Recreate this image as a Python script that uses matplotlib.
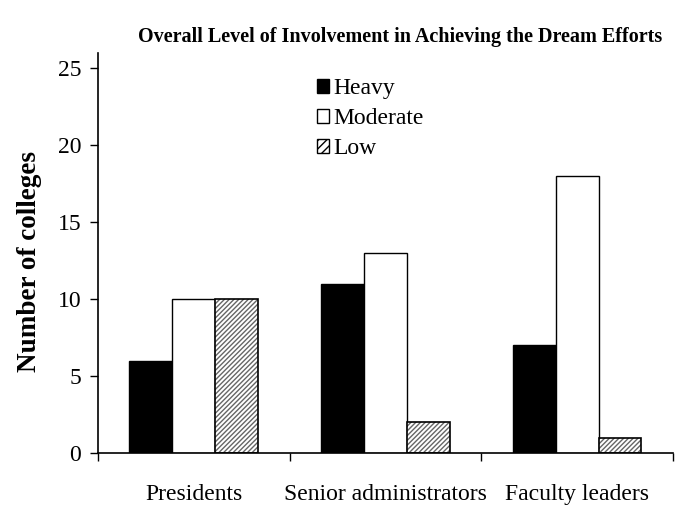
import matplotlib
matplotlib.use("Agg")
import matplotlib.pyplot as plt
from matplotlib.patches import Patch
import numpy as np

plt.rcParams['font.family'] = ['Liberation Serif', 'DejaVu Serif']

categories = ["Presidents", "Senior administrators", "Faculty leaders"]
series = ["Heavy", "Moderate", "Low"]
heavy = [6, 11, 7]
moderate = [10, 13, 18]
low = [10, 2, 1]

fig = plt.figure(figsize=(6.78, 5.05), dpi=100)
ax = fig.add_axes([0.1445, 0.103, 0.848, 0.792])

x = np.arange(len(categories))
w = 0.224

ax.bar(x - w, heavy, w, color='black', edgecolor='black', linewidth=1)
ax.bar(x, moderate, w, color='white', edgecolor='black', linewidth=1)
# hatched fill in gray, then black outline on top
ax.bar(x + w, low, w, color='white', edgecolor='#666666', hatch='///////', linewidth=0)
ax.bar(x + w, low, w, fill=False, edgecolor='black', linewidth=1.2)

ax.set_xlim(-0.5, 2.5)
ax.set_ylim(0, 26)
ax.set_yticks([0, 5, 10, 15, 20, 25])
ax.set_xticks(x)
ax.set_xticklabels(categories)
ax.set_xticks([-0.5, 0.5, 1.5, 2.5], minor=True)
ax.tick_params(axis='x', which='major', length=0, pad=22, labelsize=17)
ax.tick_params(axis='x', which='minor', length=6, direction='out', width=1)
ax.tick_params(axis='y', length=6, width=1, labelsize=17, pad=6)

for s in ['top', 'right']:
    ax.spines[s].set_visible(False)
ax.spines['left'].set_linewidth(1.2)
ax.spines['bottom'].set_linewidth(1.2)

ax.set_ylabel("Number of colleges", fontsize=19.5, fontweight='bold')
ax.yaxis.set_label_coords(-0.098, 0.48)
fig.suptitle("Overall Level of Involvement in Achieving the Dream Efforts",
             fontsize=14.5, fontweight='bold', x=0.59, y=0.947)

handles = [
    Patch(facecolor='black', edgecolor='black', label='Heavy'),
    Patch(facecolor='white', edgecolor='black', label='Moderate'),
    Patch(facecolor='white', edgecolor='black', hatch='////', label='Low'),
]
ax.legend(handles=handles, loc='upper left', bbox_to_anchor=(0.365, 0.96),
          frameon=False, fontsize=17, handlelength=0.5, handleheight=0.5,
          handletextpad=0.2, labelspacing=0.38, borderaxespad=0)

fig.savefig("out.png", dpi=100)
